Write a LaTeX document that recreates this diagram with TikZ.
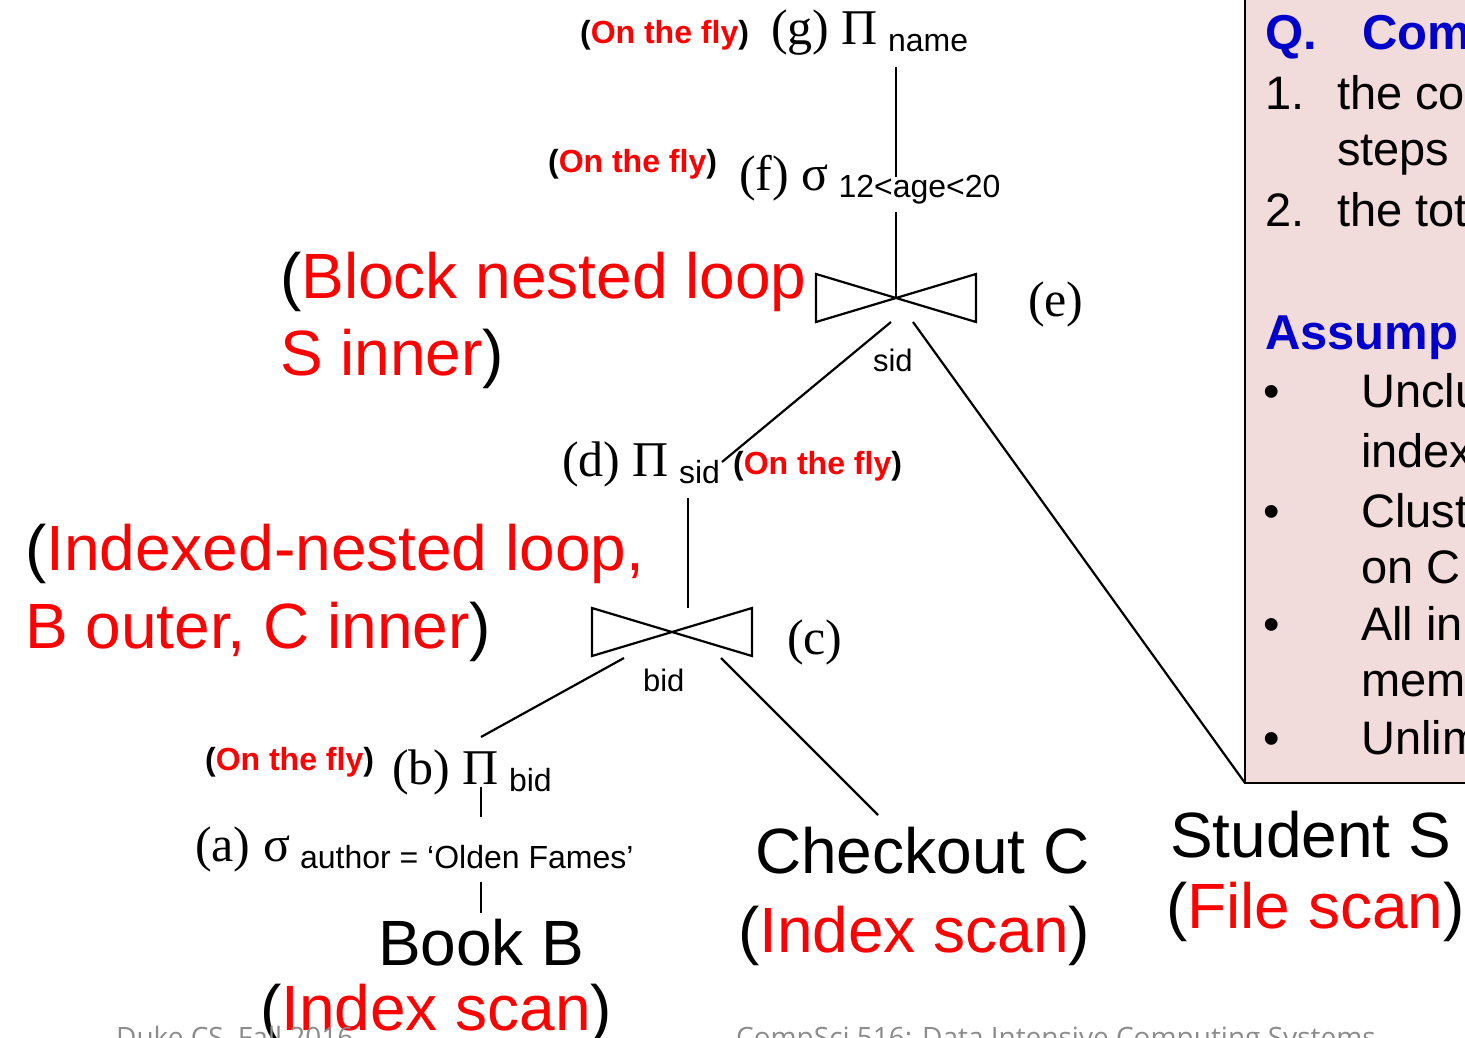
\documentclass[tikz,border=0pt]{standalone}
\usepackage{fontspec}
\setmainfont{Liberation Sans}
\newfontfamily\timesfont{Liberation Serif}
\newfontfamily\footfont{Open Sans}
\definecolor{boxpink}{RGB}{242,220,219}
\definecolor{qblue}{RGB}{0,0,204}
\definecolor{footgray}{RGB}{140,140,140}

\begin{document}
\begin{tikzpicture}[x=1pt,y=-1pt,line width=2.2pt,
  every node/.style={inner sep=0pt,anchor=base west},
  op/.style={font=\timesfont\fontsize{50}{54}\selectfont},
  big/.style={font=\fontsize{64}{70}\selectfont},
  fly/.style={font=\fontsize{32}{36}\selectfont\bfseries},
  attr/.style={font=\fontsize{31}{34}\selectfont},
  boxtext/.style={font=\fontsize{47}{52}\selectfont},
  boxhead/.style={font=\fontsize{49}{54}\selectfont\bfseries,text=qblue},
  foot/.style={font=\footfont\fontsize{28}{32}\selectfont,text=footgray}]
  \useasboundingbox (0,0) rectangle (1465,1038);
  \newcommand{\joinw}{80}
  \newcommand{\joinh}{24}
  \newcommand\drawjoin[3]{\coordinate (#1) at (#2,#3);\draw (#2-\joinw,#3-\joinh) -- (#2+\joinw,#3+\joinh) -- (#2+\joinw,#3-\joinh) -- (#2-\joinw,#3+\joinh) -- cycle;}
  \newcommand\opsub[1]{\hspace{10pt}{\normalfont\fontsize{32}{34}\selectfont\raisebox{-7pt}{#1}}}
  \newcommand\onfly{(\textcolor{red}{On the fly})}

% (g) projection on name
  \node[fly] (g-fly) at (579,44) {\onfly};
  \node[op] (g) at (770,45) {(g) Π\opsub{name}};

% (f) selection on age
  \node[fly] (f-fly) at (547,172) {\onfly};
  \node[op] (f) at (738,190) {(f) σ\opsub{12<age<20}};

% (e) join S
  \drawjoin{e}{896}{298}
  \node[op] (e-lab) at (1027,316) {(e)};
  \node[attr] (e-attr) at (872,371) {sid};
  \node[big] (e-alg1) at (279,298) {(\textcolor{red}{Block nested loop}};
  \node[big] (e-alg2) at (279,375) {\textcolor{red}{S inner})};

% (d) projection on sid
  \node[op] (d) at (561,476) {(d) Π\opsub{sid}};
  \node[fly] (d-fly) at (732,474) {\onfly};

% (c) join C
  \drawjoin{c}{672}{632}
  \node[op] (c-lab) at (786,654) {(c)};
  \node[attr] (c-attr) at (642,691) {bid};
  \node[big] (c-alg1) at (24,570) {(\textcolor{red}{Indexed-nested loop,}};
  \node[big] (c-alg2) at (24,648) {\textcolor{red}{B outer, C inner})};

% (b) projection on bid, (a) selection on author
  \node[fly] (b-fly) at (204,770) {\onfly};
  \node[op] (b) at (391,784) {(b) Π\opsub{bid}};
  \node[op] (a) at (194,861) {(a) σ\opsub{author = ‘Olden Fames’}};

% relations
  \node[big] (book) at (377,965) {Book B};
  \node[big] (book-scan) at (259,1030) {(\textcolor{red}{Index scan})};
  \node[big] (checkout) at (754,873) {Checkout C};
  \node[big] (checkout-scan) at (737,952) {(\textcolor{red}{Index scan})};
  \node[big] (student) at (1169,857) {Student S};
  \node[big] (student-scan) at (1165,928) {(\textcolor{red}{File scan})};

% edges of the tree
  \coordinate (g-end) at (896,67);   \coordinate (f-top) at (896,177);
  \coordinate (f-end) at (896,212);
  \coordinate (e-l) at (891,322);    \coordinate (d-top) at (722,462);
  \coordinate (e-r) at (913,322);    \coordinate (s-top) at (1245,783);
  \coordinate (d-end) at (688,498);  \coordinate (c-top) at (688,608);
  \coordinate (c-l) at (624,658);    \coordinate (b-top) at (481,737);
  \coordinate (c-r) at (721,658);    \coordinate (co-top) at (878,815);
  \coordinate (b-end) at (481,787);  \coordinate (a-top) at (481,817);
  \coordinate (a-end) at (481,882);  \coordinate (book-top) at (481,913);
  \draw (g-end) -- (f-top);
  \draw (f-end) -- (e);
  \draw (e-l) -- (d-top);
  \draw (e-r) -- (s-top);
  \draw (d-end) -- (c-top);
  \draw (c-l) -- (b-top);
  \draw (c-r) -- (co-top);
  \draw (b-end) -- (a-top);
  \draw (a-end) -- (book-top);

% question box
  \draw[fill=boxpink,line width=2pt] (1245,-5) rectangle (1480,783);
  \node[boxhead] (q) at (1264,50) {Q.};
  \node[boxhead] (q-txt) at (1361,50) {Com};
  \node[boxtext] (n1) at (1264,110) {1.};
  \node[boxtext] (n1-txt) at (1336,110) {the co};
  \node[boxtext] (n1-txt2) at (1336,166) {steps};
  \node[boxtext] (n2) at (1264,226) {2.};
  \node[boxtext] (n2-txt) at (1336,226) {the tot};
  \node[boxhead] (assume) at (1264,349) {Assump};
  \foreach \y/\txt in {407/Unclu,467/index,527/Clust,583/on C,640/All in,696/mem,754/Unlim}{
    \node[boxtext] (line-\y) at (1360,\y) {\txt};
  }
  \foreach \y in {407,527,640,754}{
    \node[boxtext] (bullet-\y) at (1262,\y) {•};
  }

% footer
  \node[foot] (foot-l) at (115,1047) {Duke CS, Fall 2016};
  \node[foot] (foot-r) at (735,1047) {CompSci 516: Data Intensive Computing Systems};
\end{tikzpicture}
\end{document}
